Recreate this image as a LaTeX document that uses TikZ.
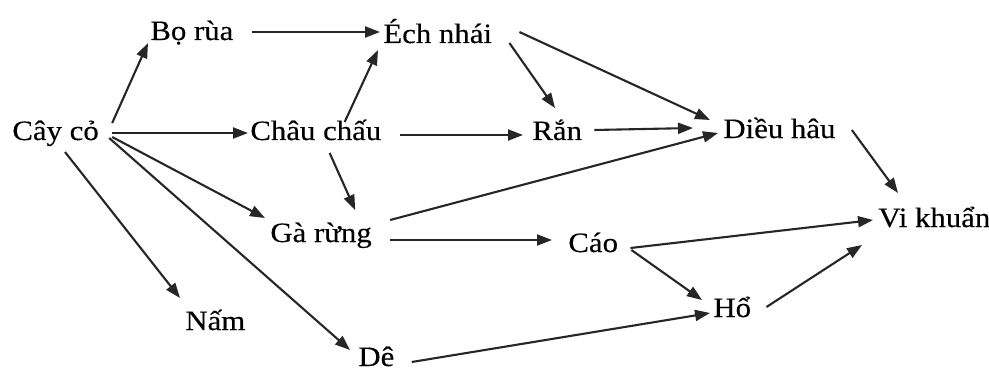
\documentclass[tikz,border=0pt]{standalone}
\usepackage{fontspec}
\setmainfont{Liberation Serif}[FakeStretch=1.1,FakeBold=0.3]
\usetikzlibrary{arrows.meta}
\begin{document}
\begin{tikzpicture}[x=0.5pt,y=-0.5pt,
  lbl/.style={inner sep=0pt, anchor=base west, font=\fontsize{14}{16}\selectfont},
  arr/.style={line width=1.05pt, draw=black!85, -{Triangle[length=7.5pt,width=5.5pt]}}]
\useasboundingbox[fill=white] (0,0) rectangle (989,369);
% nodes
\node[lbl] (cay)  at (12,140)  {Cây cỏ};
\node[lbl] (bo)   at (150,40)  {Bọ rùa};
\node[lbl] (ech)  at (383,43)  {Éch nhái};
\node[lbl] (chau) at (250,140) {Châu chấu};
\node[lbl] (ran)  at (532,140) {Rắn};
\node[lbl] (dieu) at (723,138) {Diều hâu};
\node[lbl] (ga)   at (270,242) {Gà rừng};
\node[lbl] (nam)  at (185,330) {Nấm};
\node[lbl] (de)   at (358,366) {Dê};
\node[lbl] (cao)  at (568,252) {Cáo};
\node[lbl] (vi)   at (878,227) {Vi khuẩn};
\node[lbl] (ho)   at (713,317) {Hổ};
% connectors
\draw[arr] ([shift={(13,-17)}]cay.base east) -- ([shift={(-2,3)}]bo.base west);
\draw[arr] ([shift={(18,-8)}]bo.base east) -- ([shift={(-3,-11)}]ech.base west);
\draw[arr] ([shift={(13,-7)}]cay.base east) -- ([shift={(-2,-7)}]chau.base west);
\draw[arr] ([shift={(-37,-18)}]chau.base east) -- ([shift={(-5,7)}]ech.base west);
\draw[arr] ([shift={(18,-5)}]chau.base east) -- ([shift={(-9,-5)}]ran.base west);
\draw[arr] ([shift={(-52,13)}]chau.base east) -- ([shift={(-17,-32)}]ga.base east);
\draw[arr] ([shift={(13,-3)}]cay.base east) -- ([shift={(-5,-24)}]ga.base west);
\draw[arr] ([shift={(10,-2)}]cay.base east) -- ([shift={(-8,-16)}]de.base west);
\draw[arr] ([shift={(53,12)}]cay.base west) -- ([shift={(-5,-32)}]nam.base west);
\draw[arr] ([shift={(17,0)}]ech.base east) -- ([shift={(23,-32)}]ran.base west);
\draw[arr] ([shift={(27,-11)}]ech.base east) -- ([shift={(-13,-18)}]dieu.base west);
\draw[arr] ([shift={(12,-10)}]ran.base east) -- ([shift={(-30,-10)}]dieu.base west);
\draw[arr] ([shift={(18,-22)}]ga.base east) -- ([shift={(-5,-5)}]dieu.base west);
\draw[arr] ([shift={(16,-8)}]dieu.base east) -- ([shift={(20,-34)}]vi.base west);
\draw[arr] ([shift={(18,-2)}]ga.base east) -- ([shift={(-16,-12)}]cao.base west);
\draw[arr] ([shift={(12,-4)}]cao.base east) -- ([shift={(-5,-7)}]vi.base west);
\draw[arr] ([shift={(13,-2)}]cao.base east) -- ([shift={(-11,-17)}]ho.base west);
\draw[arr] ([shift={(15,-10)}]ho.base east) -- ([shift={(-16,18)}]vi.base west);
\draw[arr] ([shift={(17,-4)}]de.base east) -- ([shift={(-3,-4)}]ho.base west);
\end{tikzpicture}
\end{document}
